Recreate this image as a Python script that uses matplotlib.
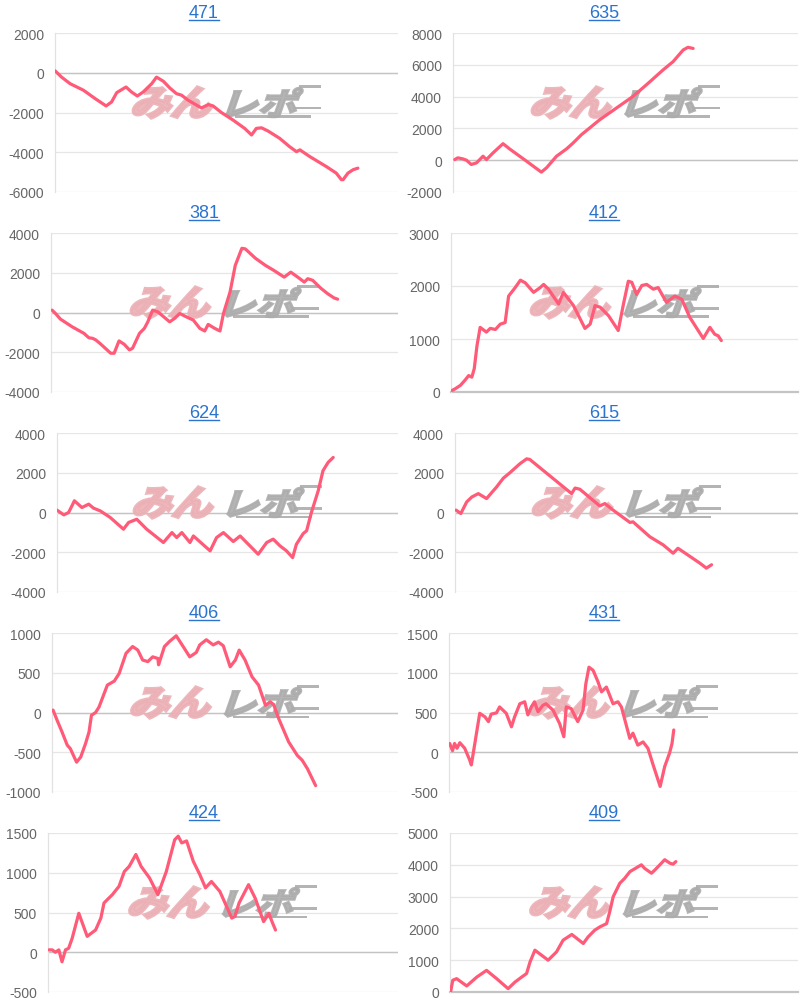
import matplotlib.pyplot as plt
from matplotlib.textpath import TextPath
from matplotlib.patches import PathPatch, Rectangle
from matplotlib.font_manager import FontProperties
from matplotlib.transforms import Affine2D
from matplotlib.lines import Line2D

plt.rcParams['font.family'] = ['Liberation Sans', 'DejaVu Sans']
plt.rcParams['axes.unicode_minus'] = False

# データ (x = 横軸の位置 %, y = 差枚)
x_471 = [0, 1.9, 4.4, 8.3, 11.7, 14.9, 16.5, 18.0, 20.7, 22.3, 24.0, 25.7, 28.2, 29.6, 31.6, 33.5,
         35.4, 36.9, 38.8, 41.3, 42.7, 44.7, 46.1, 48.5, 51.9, 55.3, 57.3, 58.7, 60.2, 62.1, 65.5,
         68.4, 70.4, 71.4, 74.3, 79.1, 82.0, 83.5, 84.0, 85.4, 86.9, 88.3]
y_471 = [100, -217, -550, -880, -1300, -1670, -1470, -1000, -717, -967, -1170, -970, -550, -220,
         -430, -770, -1050, -1130, -1380, -1630, -1770, -1600, -1670, -2000, -2380, -2800, -3130,
         -2800, -2770, -2930, -3300, -3720, -3970, -3880, -4220, -4720, -5050, -5380, -5380, -5050,
         -4880, -4800]

x_635 = [0.5, 1.4, 2.9, 3.9, 5.3, 6.8, 8.7, 9.7, 11.6, 14.5, 16.4, 21.3, 25.6, 27.1, 30.0, 32.9,
         34.8, 37.2, 42.5, 47.3, 52.1, 56.0, 60.9, 63.8, 66.7, 68.1, 69.6]
y_635 = [40, 150, 80, 0, -270, -170, 250, 40, 460, 1040, 710, -60, -750, -480, 250, 710, 1080,
         1600, 2540, 3270, 4000, 4730, 5680, 6200, 6930, 7100, 7030]

x_381 = [0.3, 1.3, 2.7, 6.1, 9.5, 10.9, 12.0, 12.9, 14.4, 17.2, 18.2, 19.6, 21.1, 22.6, 23.5, 25.5,
         26.9, 27.9, 29.3, 30.8, 34.2, 35.6, 37.1, 39.0, 41.0, 42.9, 44.3, 45.3, 47.2, 48.7, 49.7,
         51.6, 53.1, 55.0, 56.0, 58.9, 61.8, 64.2, 67.2, 69.1, 71.1, 73.0, 74.0, 75.4, 77.7, 79.7,
         81.6, 82.6]
y_381 = [120, -50, -330, -720, -1050, -1270, -1300, -1380, -1600, -2050, -2050, -1430, -1600,
         -1880, -1800, -1050, -800, -470, 120, 30, -470, -300, -50, -220, -380, -800, -930, -600,
         -800, -930, -50, 1030, 2370, 3230, 3200, 2730, 2370, 2120, 1780, 2030, 1780, 1530, 1700,
         1620, 1230, 950, 730, 670]

x_412 = [0.3, 1.2, 2.7, 4.0, 5.1, 6.0, 6.7, 7.5, 8.4, 10.2, 11.3, 12.8, 14.2, 15.6, 16.6, 18.5,
         20.0, 21.4, 23.8, 25.7, 26.7, 28.1, 31.0, 32.4, 35.3, 38.6, 40.1, 41.5, 43.0, 45.4, 48.2,
         49.7, 51.1, 52.1, 53.5, 55.0, 56.4, 58.3, 59.7, 62.1, 64.5, 66.5, 68.8, 72.7, 74.6, 76.0,
         77.0, 77.9]
y_412 = [30, 60, 125, 220, 310, 280, 440, 880, 1220, 1130, 1200, 1180, 1280, 1310, 1810, 1970,
         2110, 2060, 1880, 1970, 2030, 1940, 1660, 1880, 1630, 1200, 1280, 1630, 1600, 1440, 1160,
         1660, 2090, 2070, 1840, 2010, 2030, 1940, 1970, 1690, 1810, 1750, 1410, 1010, 1220, 1090,
         1060, 970]

x_624 = [0, 2.0, 3.4, 4.4, 5.1, 7.3, 9.3, 10.7, 12.7, 15.6, 19.5, 21.0, 23.4, 26.3, 31.2, 33.7,
         35.1, 36.6, 39.0, 40.0, 44.9, 46.8, 48.8, 51.7, 53.7, 59.0, 61.5, 63.4, 65.4, 67.3, 69.1,
         70.2, 72.2, 73.2, 74.6, 76.6, 78.0, 79.5, 81.0]
y_624 = [120, -120, 0, 340, 590, 250, 420, 220, 80, -250, -840, -500, -340, -840, -1510, -1010,
         -1260, -1010, -1510, -1180, -1930, -1260, -1010, -1460, -1180, -2100, -1510, -1340, -1680,
         -1930, -2270, -1600, -1060, -920, 0, 1090, 2100, 2520, 2770]

x_615 = [0.3, 1.7, 3.4, 4.9, 6.8, 9.2, 12.1, 14.1, 16.0, 18.9, 20.9, 21.8, 25.7, 29.6, 34.0, 35.0,
         36.4, 42.2, 43.7, 46.1, 51.0, 51.9, 56.8, 60.7, 63.6, 65.0, 71.4, 73.3, 74.8]
y_615 = [120, -50, 530, 780, 950, 700, 1280, 1730, 2000, 2450, 2700, 2670, 2120, 1570, 950, 1230,
         1170, 330, 450, 120, -500, -470, -1220, -1630, -2050, -1800, -2550, -2800, -2630]

x_406 = [0.3, 1.5, 2.9, 4.4, 5.3, 7.1, 8.3, 9.7, 10.7, 11.4, 12.6, 13.6, 16.0, 18.0, 19.4, 21.4,
         23.3, 24.8, 26.2, 27.7, 29.1, 30.6, 30.8, 32.5, 34.0, 35.9, 37.9, 39.8, 41.7, 42.7, 44.6,
         46.6, 48.1, 49.5, 51.5, 53.0, 54.1, 55.8, 57.8, 59.7, 61.7, 63.1, 64.1, 65.5, 68.4, 70.9,
         72.3, 73.8, 76.2]
y_406 = [30, -100, -245, -410, -455, -625, -560, -390, -245, -35, 0, 70, 345, 395, 490, 745, 830,
         785, 660, 640, 700, 680, 600, 830, 895, 965, 830, 700, 755, 850, 915, 850, 885, 840, 575,
         660, 785, 660, 450, 345, 90, 135, 95, -75, -370, -540, -600, -705, -920]

x_431 = [0.2, 1.0, 1.6, 2.3, 3.1, 4.5, 5.9, 6.4, 7.4, 8.8, 10.3, 11.3, 12.1, 13.6, 14.5, 16.4,
         17.9, 18.8, 20.3, 21.7, 22.6, 23.6, 24.5, 25.5, 26.9, 27.8, 29.8, 31.7, 32.9, 33.6, 35.0,
         36.9, 38.4, 39.2, 40.1, 41.3, 42.7, 43.7, 45.1, 47.0, 48.4, 49.4, 51.8, 52.7, 54.1, 55.6,
         57.0, 58.5, 60.5, 61.8, 63.2, 63.9, 64.4]
y_431 = [110, 20, 110, 50, 120, 50, -95, -160, 110, 490, 445, 385, 480, 495, 570, 490, 320, 445,
         610, 635, 470, 570, 635, 510, 590, 610, 530, 360, 195, 570, 550, 385, 530, 860, 1070, 1030,
         885, 760, 820, 610, 635, 570, 175, 240, 90, 130, 50, -160, -430, -180, -10, 110, 280]

x_424 = [0.2, 1.2, 2.1, 3.1, 4.0, 5.0, 5.9, 6.9, 8.8, 11.2, 13.6, 15.1, 16.0, 18.4, 20.3, 21.8,
         23.2, 25.1, 26.6, 29.0, 31.4, 33.8, 36.2, 37.2, 38.2, 39.6, 41.5, 43.4, 45.0, 46.7, 49.1,
         52.5, 53.4, 54.6, 57.3, 59.2, 61.6, 63.1, 64.0, 65.0]
y_424 = [30, 30, 0, 30, -120, 30, 50, 175, 490, 200, 280, 430, 620, 725, 830, 1015, 1080, 1230,
         1080, 935, 725, 1015, 1415, 1460, 1375, 1400, 1145, 975, 810, 890, 765, 430, 450, 620, 850,
         680, 385, 490, 385, 280]

x_409 = [0.2, 0.8, 1.9, 4.8, 7.7, 10.5, 13.4, 16.7, 18.7, 20.6, 22.0, 23.0, 24.4, 28.2, 30.6, 32.5,
         35.0, 38.3, 39.7, 41.6, 43.1, 45.0, 45.9, 46.9, 48.8, 50.2, 51.7, 55.0, 55.9, 57.9, 58.9,
         60.3, 61.7, 63.2, 64.1, 64.9]
y_409 = [20, 370, 420, 190, 470, 680, 420, 105, 315, 470, 580, 945, 1315, 1000, 1260, 1630, 1810,
         1525, 1735, 1945, 2050, 2150, 2525, 3000, 3420, 3575, 3785, 4000, 3890, 3735, 3840, 4000,
         4160, 4050, 4020, 4100]

titles = ['471', '635', '381', '412', '624', '615', '406', '431', '424', '409']
series = [(x_471, y_471), (x_635, y_635), (x_381, y_381), (x_412, y_412), (x_624, y_624),
          (x_615, y_615), (x_406, y_406), (x_431, y_431), (x_424, y_424), (x_409, y_409)]
yranges = [(-6000, 2000, 2000), (-2000, 8000, 2000), (-4000, 4000, 2000), (0, 3000, 1000),
           (-4000, 4000, 2000), (-4000, 4000, 2000), (-1000, 1000, 500), (-500, 1500, 500),
           (-500, 1500, 500), (0, 5000, 1000)]
lefts = [55, 453, 51, 451, 57, 455, 52, 449, 48, 450]

W, H = 800, 1003
fig = plt.figure(figsize=(8, 10.03), dpi=100)
wm_font = FontProperties(family='Noto Sans CJK JP', weight='bold')


def logo_part(ax, text, x0, y_top, w, h, color, lw):
    tp = TextPath((0, 0), text, size=1, prop=wm_font)
    ext = tp.get_extents()
    extra = 0.34 * h
    sx = (w - extra) / ext.width
    sy = h / ext.height
    tr = (Affine2D().translate(-ext.x0, -ext.y0).scale(sx, sy).skew_deg(19, 0)
          .translate(x0, H - y_top - h).scale(1 / 100) + fig.dpi_scale_trans)
    ax.add_artist(PathPatch(tp, transform=tr, facecolor=color, edgecolor=color, lw=lw,
                            joinstyle='miter', alpha=0.9, zorder=2, clip_on=False))


def bar(ax, x0, y, w, h, color):
    ax.add_artist(Rectangle((x0 / 100, (H - y - h) / 100), w / 100, h / 100,
                            transform=fig.dpi_scale_trans, facecolor=color, edgecolor='none',
                            alpha=0.9, zorder=2, clip_on=False))


for i, (title, (xs, ys), (ymin, ymax, step), left) in enumerate(zip(titles, series, yranges, lefts)):
    r, c = divmod(i, 2)
    top = r * 200 + 34
    bottom = r * 200 + 193
    right = c * 400 + 398
    ax = fig.add_axes([left / W, 1 - bottom / H, (right - left) / W, (bottom - top) / H])
    ax.plot(xs, ys, color='#ff5a78', lw=2.3, solid_joinstyle='round',
            solid_capstyle='round', zorder=3)
    ax.set_xlim(0, 100)
    ax.set_ylim(ymin, ymax)
    ax.set_yticks(range(ymin, ymax + 1, step))
    ax.set_xticks([])
    ax.tick_params(axis='y', length=0, pad=8, labelsize=10, labelcolor='#666666')
    ax.yaxis.grid(True, color='#e6e6e6', lw=0.9)
    ax.set_axisbelow(True)
    if ymin < 0 < ymax:
        ax.axhline(0, color='#c4c4c4', lw=1.0, zorder=1.5)
    elif ymin == 0:
        ax.axhline(0, color='#c4c4c4', lw=1.6, zorder=1.5, clip_on=False)
    for s in ['top', 'right', 'bottom']:
        ax.spines[s].set_visible(False)
    ax.spines['left'].set_color('#e2e2e2')
    ax.spines['left'].set_linewidth(0.9)

    # ウォーターマーク
    cx = (left + right) / 2
    wy = r * 200 + 87
    logo_part(ax, 'みん', cx - 96, wy + 1, 88, 31, '#ebb0b5', 2.4)
    logo_part(ax, 'レポ', cx - 1, wy + 2, 78, 29, '#acacac', 1.8)
    bar(ax, cx + 72, wy - 1, 22, 2.5, '#acacac')
    bar(ax, cx + 66, wy + 21, 28, 2.5, '#acacac')
    bar(ax, cx + 8, wy + 29.5, 76, 2.5, '#acacac')

    # タイトル
    t = fig.text((c * 400 + 204) / W, 1 - (r * 200 + 18.5) / H, title, color='#2a74d0',
                 fontsize=13, ha='center', va='baseline')
    fig.canvas.draw()
    bb = t.get_window_extent(fig.canvas.get_renderer())
    yl = (H - (r * 200 + 20.5)) / H
    fig.add_artist(Line2D([bb.x0 / W, bb.x1 / W], [yl, yl], transform=fig.transFigure,
                          color='#2a74d0', lw=1.0))

fig.savefig('out.png', dpi=100)
